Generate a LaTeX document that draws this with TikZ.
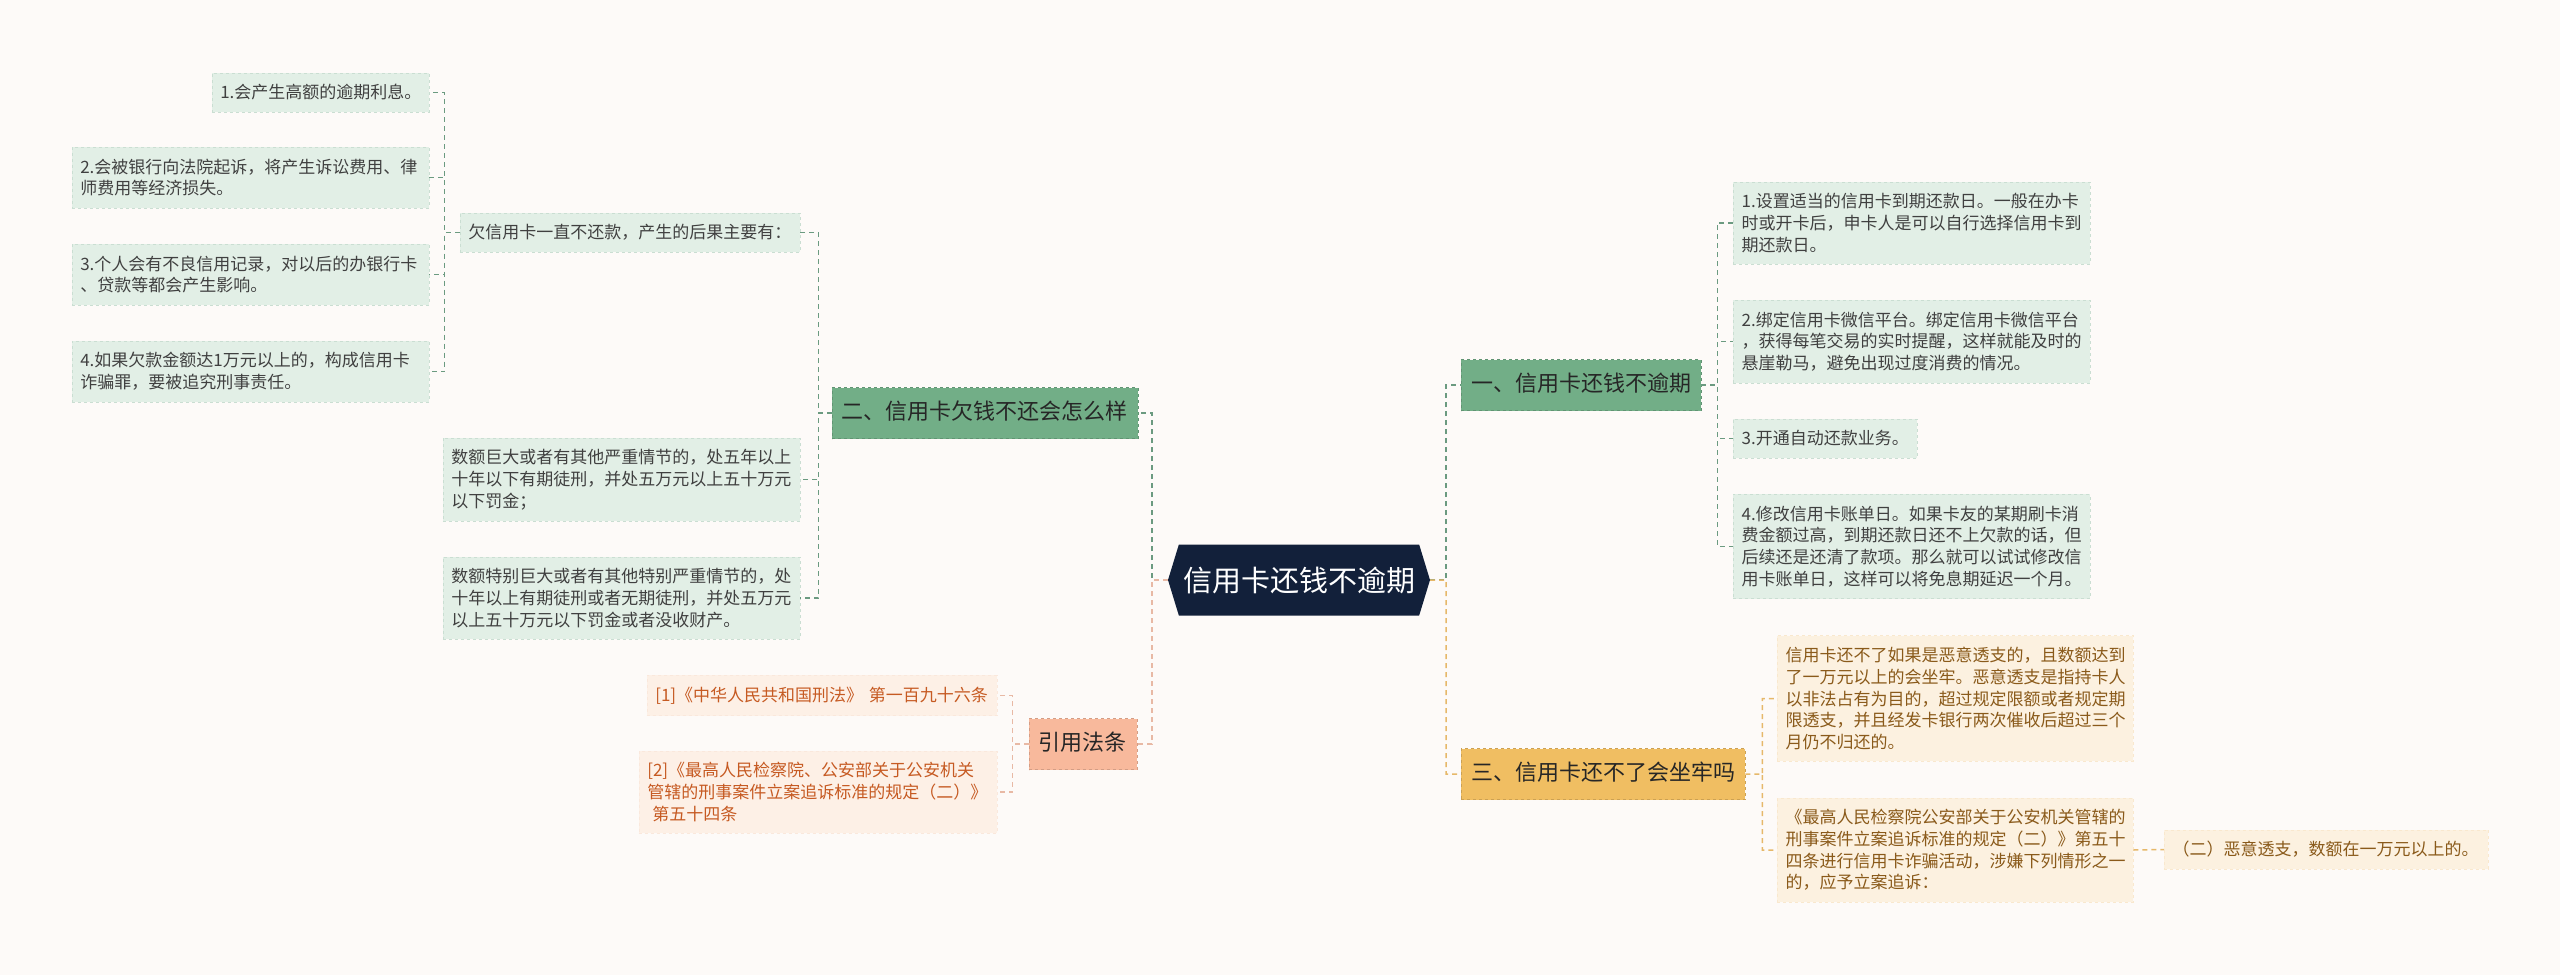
\documentclass[tikz,border=0pt]{standalone}
\usepackage{fontspec}
\usepackage{tikz}
\usetikzlibrary{positioning, shapes.symbols}
\newfontfamily\cjk{Noto Sans CJK SC}

\definecolor{bgcol}{HTML}{FDFAF8}
\definecolor{rootcol}{HTML}{12203A}
\definecolor{greencol}{HTML}{72AE87}
\definecolor{gleafcol}{HTML}{E2EFE6}
\definecolor{glinecol}{HTML}{6B9A80}
\definecolor{orangecol}{HTML}{F0BE62}
\definecolor{oleafcol}{HTML}{FCF1E0}
\definecolor{olinecol}{HTML}{E6B86A}
\definecolor{otextcol}{HTML}{8A5A1A}
\definecolor{salmoncol}{HTML}{F8B99C}
\definecolor{sleafcol}{HTML}{FDF0E6}
\definecolor{slinecol}{HTML}{E8B9A5}
\definecolor{stextcol}{HTML}{C65A22}

\tikzset{
  rootnode/.style={signal, signal to=east and west, signal pointer angle=146,
    fill=rootcol, text=white, font=\cjk\fontsize{29}{34}\selectfont,
    minimum width=262pt, minimum height=71pt, inner sep=0pt},
  branch/.style={fill=#1, draw=#1!85!black, dashed, text=black!85,
    font=\cjk\fontsize{22}{26}\selectfont, text height=17.5pt, text depth=4.5pt,
    inner xsep=10pt, inner ysep=14.5pt},
  leaf/.style={fill=gleafcol, draw=gleafcol!80!glinecol, dashed, text=black!75,
    font=\cjk\fontsize{17}{21.7}\selectfont, align=left, text width=#1,
    inner xsep=8.5pt, inner ysep=11.5pt},
  oleaf/.style={leaf=#1, fill=oleafcol, draw=oleafcol!85!olinecol, text=otextcol},
  sleaf/.style={leaf=#1, fill=sleafcol, draw=sleafcol!85!slinecol, text=stextcol},
  link/.style={draw=#1, dash pattern=on 5pt off 4pt, line width=1.5pt}
}

\begin{document}
\begin{tikzpicture}[x=1pt, y=-1pt]
  \useasboundingbox (0,0) rectangle (2560,975);
  \fill[bgcol] (0,0) rectangle (2560,975);

  \node[rootnode] (root) at (1299,580) {信用卡还钱不逾期};

  % right side
  \node[branch=greencol, anchor=west] (b1) at (1461,385) {一、信用卡还钱不逾期};
  \node[branch=orangecol, anchor=west] (b3) at (1461,774) {三、信用卡还不了会坐牢吗};

  \node[leaf=340pt, anchor=west] (r1) at (1733,223) {1.设置适当的信用卡到期还款日。一般在办卡\\时或开卡后，申卡人是可以自行选择信用卡到\\期还款日。};
  \node[leaf=340pt, anchor=west] (r2) at (1733,341.5) {2.绑定信用卡微信平台。绑定信用卡微信平台\\，获得每笔交易的实时提醒，这样就能及时的\\悬崖勒马，避免出现过度消费的情况。};
  \node[leaf=167pt, anchor=west] (r3) at (1733,438.5) {3.开通自动还款业务。};
  \node[leaf=340pt, anchor=west] (r4) at (1733,546.5) {4.修改信用卡账单日。如果卡友的某期刷卡消\\费金额过高，到期还款日还不上欠款的话，但\\后续还是还清了款项。那么就可以试试修改信\\用卡账单日，这样可以将免息期延迟一个月。};

  \node[oleaf=339pt, anchor=west] (t1) at (1777,698.5) {信用卡还不了如果是恶意透支的，且数额达到\\了一万元以上的会坐牢。恶意透支是指持卡人\\以非法占有为目的，超过规定限额或者规定期\\限透支，并且经发卡银行两次催收后超过三个\\月仍不归还的。};
  \node[oleaf=339pt, anchor=west] (t2) at (1777,850) {《最高人民检察院公安部关于公安机关管辖的\\刑事案件立案追诉标准的规定（二）》第五十\\四条进行信用卡诈骗活动，涉嫌下列情形之一\\的，应予立案追诉：};
  \node[oleaf=307pt, anchor=west] (t3) at (2164,849.5) {（二）恶意透支，数额在一万元以上的。};

  % left side
  \node[branch=greencol, anchor=east] (b2) at (1138,413) {二、信用卡欠钱不还会怎么样};
  \node[branch=salmoncol, anchor=east] (b4) at (1137,744) {引用法条};

  \node[leaf=323pt, anchor=east] (q) at (800,232.5) {欠信用卡一直不还款，产生的后果主要有：};
  \node[leaf=340pt, anchor=east] (s1) at (800,479.5) {数额巨大或者有其他严重情节的，处五年以上\\十年以下有期徒刑，并处五万元以上五十万元\\以下罚金；};
  \node[leaf=340pt, anchor=east] (s2) at (800,598) {数额特别巨大或者有其他特别严重情节的，处\\十年以上有期徒刑或者无期徒刑，并处五万元\\以上五十万元以下罚金或者没收财产。};

  \node[leaf=200pt, anchor=east] (l1) at (429,92.5) {1.会产生高额的逾期利息。};
  \node[leaf=340pt, anchor=east] (l2) at (429,177.5) {2.会被银行向法院起诉，将产生诉讼费用、律\\师费用等经济损失。};
  \node[leaf=340pt, anchor=east] (l3) at (429,274.5) {3.个人会有不良信用记录，对以后的办银行卡\\、贷款等都会产生影响。};
  \node[leaf=340pt, anchor=east] (l4) at (429,371.5) {4.如果欠款金额达1万元以上的，构成信用卡\\诈骗罪，要被追究刑事责任。};

  \node[sleaf=333pt, anchor=east] (c1) at (997,695.5) {[1]《中华人民共和国刑法》 第一百九十六条};
  \node[sleaf=341pt, anchor=east] (c2) at (997,792) {[2]《最高人民检察院、公安部关于公安机关\\管辖的刑事案件立案追诉标准的规定（二）》\\\hspace{0.3em}第五十四条};

  % connectors
  \draw[link=glinecol] (root.east) -- ++(16,0) |- (b1.west)
    (b1.east) -- ++(16,0) |- (r1.west)
    (b1.east) -- ++(16,0) |- (r2.west)
    (b1.east) -- ++(16,0) |- (r3.west)
    (b1.east) -- ++(16,0) |- (r4.west);
  \draw[link=olinecol] (root.east) -- ++(16,0) |- (b3.west)
    (b3.east) -- ++(17,0) |- (t1.west)
    (b3.east) -- ++(17,0) |- (t2.west)
    (t2.east) -- (t3.west);
  \draw[link=glinecol] (root.west) -- ++(-16,0) |- (b2.east)
    (b2.west) -- ++(-13,0) |- (q.east)
    (b2.west) -- ++(-13,0) |- (s1.east)
    (b2.west) -- ++(-13,0) |- (s2.east)
    (q.west) -- ++(-15,0) |- (l1.east)
    (q.west) -- ++(-15,0) |- (l2.east)
    (q.west) -- ++(-15,0) |- (l3.east)
    (q.west) -- ++(-15,0) |- (l4.east);
  \draw[link=slinecol] (root.west) -- ++(-16,0) |- (b4.east)
    (b4.west) -- ++(-16,0) |- (c1.east)
    (b4.west) -- ++(-16,0) |- (c2.east);
\end{tikzpicture}
\end{document}
